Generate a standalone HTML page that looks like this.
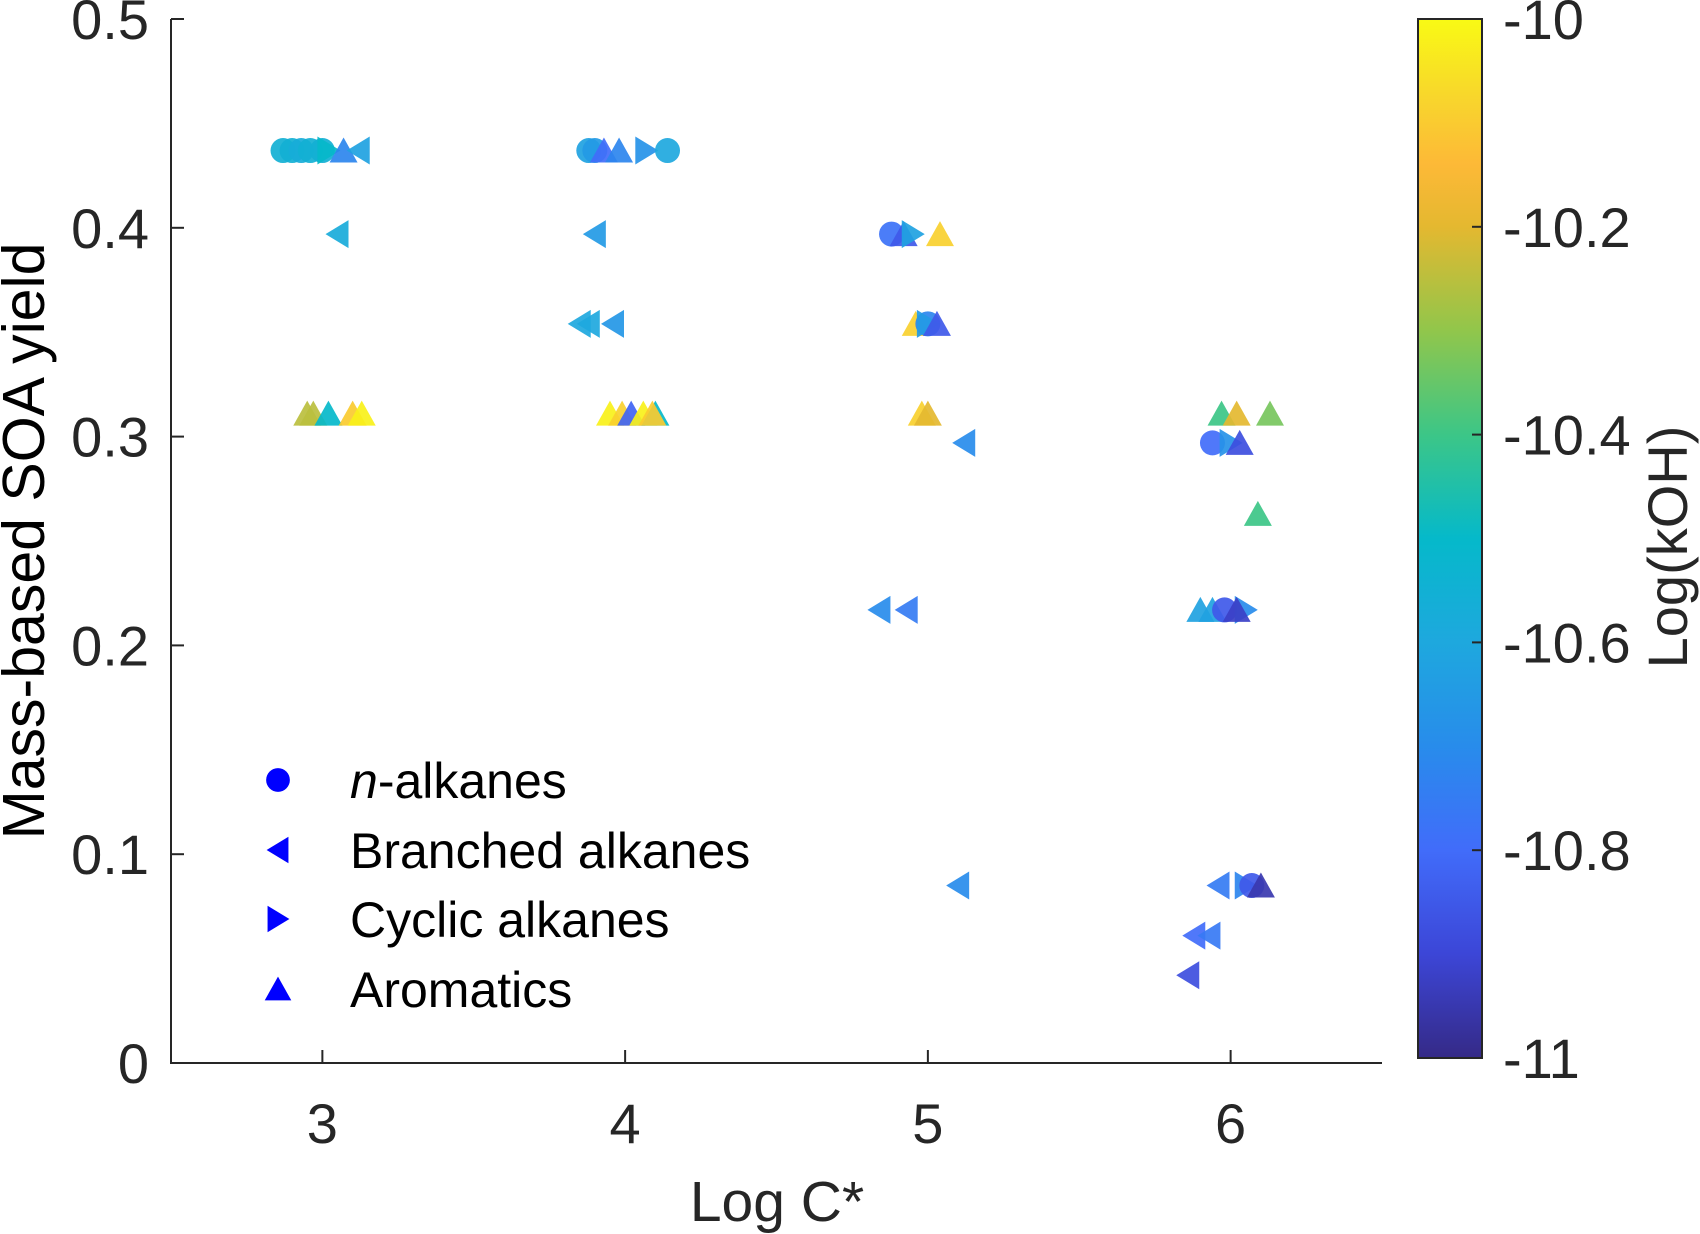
<!DOCTYPE html>
<html><head><meta charset="utf-8"><style>
html,body{margin:0;padding:0;background:#fff;}
svg{display:block;font-family:"Liberation Sans",Arial,sans-serif;}
</style></head><body>
<svg id="chart" width="1700" height="1234" viewBox="0 0 1700 1234" xmlns="http://www.w3.org/2000/svg">
<defs>
<linearGradient id="parula" x1="0" y1="1" x2="0" y2="0">
<stop offset="0" stop-color="rgb(53,42,135)"/>
<stop offset="0.1" stop-color="rgb(60,70,215)"/>
<stop offset="0.2" stop-color="rgb(65,108,250)"/>
<stop offset="0.3" stop-color="rgb(40,140,235)"/>
<stop offset="0.4" stop-color="rgb(30,168,222)"/>
<stop offset="0.5" stop-color="rgb(5,185,202)"/>
<stop offset="0.6" stop-color="rgb(60,198,135)"/>
<stop offset="0.7" stop-color="rgb(145,198,75)"/>
<stop offset="0.8" stop-color="rgb(228,184,48)"/>
<stop offset="0.86" stop-color="rgb(253,185,55)"/>
<stop offset="0.92" stop-color="rgb(248,212,45)"/>
<stop offset="1" stop-color="rgb(249,250,20)"/>
</linearGradient>
</defs>
<g id="marks"></g>
<g id="axes"></g>
</svg>
<script>
// ---- data ----
const xLogC = [2.87,2.90,2.93,2.96,3.00,3.02,3.07,3.12, 3.88,3.90,3.93,3.98,4.07,4.14,
  3.05,3.90,4.88,4.92,4.95,5.04,
  3.85,3.88,3.96,4.96,5.00,5.00,5.03,
  2.95,2.97,3.02,3.10,3.13,3.95,3.99,4.02,4.06,4.10,4.09,4.98,5.00,5.97,6.02,6.13,
  5.12,5.94,6.00,6.03,6.09,
  4.84,4.93,5.90,5.94,5.98,6.05,6.02,
  5.10,5.96,6.05,6.07,6.10,5.88,5.93,5.86];
const yYield = [0.437,0.437,0.437,0.437,0.437,0.437,0.437,0.437, 0.437,0.437,0.437,0.437,0.437,0.437,
  0.397,0.397,0.397,0.397,0.397,0.397,
  0.354,0.354,0.354,0.354,0.354,0.354,0.354,
  0.311,0.311,0.311,0.311,0.311,0.311,0.311,0.311,0.311,0.311,0.311,0.311,0.311,0.311,0.311,0.311,
  0.297,0.297,0.297,0.297,0.263,
  0.217,0.217,0.217,0.217,0.217,0.217,0.217,
  0.085,0.085,0.085,0.085,0.085,0.061,0.061,0.042];
const kOH = [-10.55,-10.55,-10.57,-10.55,-10.55,-10.5,-10.72,-10.62, -10.62,-10.65,-10.8,-10.72,-10.68,-10.6,
  -10.58,-10.65,-10.78,-10.85,-10.62,-10.09,
  -10.6,-10.6,-10.66,-10.09,-10.72,-10.65,-10.85,
  -10.25,-10.25,-10.5,-10.1,-10.02,-10.02,-10.09,-10.82,-10.02,-10.5,-10.1,-10.09,-10.2,-10.4,-10.2,-10.33,
  -10.7,-10.8,-10.68,-10.88,-10.4,
  -10.7,-10.75,-10.62,-10.62,-10.85,-10.7,-10.92,
  -10.7,-10.75,-10.72,-10.85,-10.95,-10.8,-10.76,-10.88];
const kind = ['n','n','n','n','n','c','a','b', 'n','n','a','a','c','n',
  'b','b','n','a','c','a',
  'b','b','b','a','n','c','a',
  'a','a','a','a','a','a','a','a','a','a','a','a','a','a','a','a',
  'b','n','c','a','a',
  'b','b','a','a','n','c','a',
  'b','b','c','n','a','b','b','b'];
const xTicks = [3,4,5,6];
const yTicks = [0,0.1,0.2,0.3,0.4,0.5];
const yTickLabels = ['0','0.1','0.2','0.3','0.4','0.5'];
const cTicks = [-10,-10.2,-10.4,-10.6,-10.8,-11];
const legendLabels = ['n-alkanes','Branched alkanes','Cyclic alkanes','Aromatics'];

// ---- scales ----
const X0=171, X1=1382, Y0=1063, Y1=19;
const xs = v => X0 + (v-2.5)/(6.5-2.5)*(X1-X0);
const ys = v => Y0 - v/0.5*(Y0-Y1);
const CB_T=19, CB_B=1058, CB_L=1418, CB_R=1482;
const cbY = v => CB_B - (v+11)/1*(CB_B-CB_T);
const stopPos=[0,0.1,0.2,0.3,0.4,0.5,0.6,0.7,0.8,0.86,0.92,1];
const stops=[[53,42,135],[60,70,215],[65,108,250],[40,140,235],[30,168,222],[5,185,202],[60,198,135],[145,198,75],[228,184,48],[253,185,55],[248,212,45],[249,250,20]];
function cmap(v){const t=Math.max(0,Math.min(1,v+11));let i=0;while(i<stopPos.length-2&&t>stopPos[i+1])i++;
 const f=(t-stopPos[i])/(stopPos[i+1]-stopPos[i]);const a=stops[i],b=stops[i+1];
 return 'rgb('+a.map((c,k)=>Math.round(c+(b[k]-c)*f)).join(',')+')';}
const NS='http://www.w3.org/2000/svg';
function mk(tag,attrs,parent){const e=document.createElementNS(NS,tag);for(const k in attrs)e.setAttribute(k,attrs[k]);parent.appendChild(e);return e;}
function shape(k,cx,cy,fill,parent,s){s=s||1;
 if(k==='n') return mk('ellipse',{cx:cx,cy:cy,rx:12.5*s,ry:12.5*s,fill:fill},parent);
 let p;
 if(k==='a') p=[[cx-14*s,cy+12*s],[cx+14*s,cy+12*s],[cx,cy-13*s]];
 else if(k==='b') p=[[cx+11*s,cy-14*s],[cx+11*s,cy+14*s],[cx-12*s,cy]];
 else p=[[cx-11*s,cy-14*s],[cx-11*s,cy+14*s],[cx+12*s,cy]];
 return mk('polygon',{points:p.map(q=>q.join(',')).join(' '),fill:fill},parent);}

const marks=document.getElementById('marks');
const names={n:'n-alkane-point',b:'branched-alkane-point',c:'cyclic-alkane-point',a:'aromatic-point'};
for(let i=0;i<xLogC.length;i++){
 const el=shape(kind[i],xs(xLogC[i]),ys(yYield[i]),cmap(kOH[i]),marks);
 el.setAttribute('fill-opacity','0.92');
 
 
}

const ax=document.getElementById('axes');
const T='#262626';
let l=mk('path',{d:`M${X0},${Y1} L${X0},${Y0} L${X1},${Y0}`,stroke:T,'stroke-width':2,fill:'none'},ax);


yTicks.forEach((v,i)=>{
 mk('line',{x1:X0,x2:X0+13,y1:ys(v),y2:ys(v),stroke:T,'stroke-width':2},ax);
 const t=mk('text',{x:X0-22,y:ys(v)+20,'text-anchor':'end','font-size':56,fill:T},ax);
 t.textContent=yTickLabels[i];
 
 
});
xTicks.forEach(v=>{
 mk('line',{x1:xs(v),x2:xs(v),y1:Y0,y2:Y0-13,stroke:T,'stroke-width':2},ax);
 const t=mk('text',{x:xs(v),y:Y0+80,'text-anchor':'middle','font-size':56,fill:T},ax);
 t.textContent=String(v);
 
 
});
let xt=mk('text',{x:777,y:1221,'text-anchor':'middle','font-size':57,fill:T},ax);
xt.textContent='Log C*';


let yt=mk('text',{x:0,y:0,'text-anchor':'middle','font-size':59,fill:'#000',transform:'translate(44,541) rotate(-90)'},ax);
yt.textContent='Mass-based SOA yield';



// legend
const lg=mk('g',{},ax);


const lk=['n','b','c','a'], ly=[780,850,919,989];
lk.forEach((k,i)=>{
 const s=shape(k,278,ly[i],'#0000ff',lg,0.95);
 
 
 const t=mk('text',{x:350,y:ly[i]+18,'font-size':50,fill:'#000'},lg);
 if(k==='n'){const a=mk('tspan',{'font-style':'italic'},t);a.textContent='n';const b=mk('tspan',{},t);b.textContent='-alkanes';}
 else t.textContent=legendLabels[i];
 
 
});

// colorbar
const cb=mk('rect',{x:CB_L,y:CB_T,width:CB_R-CB_L,height:CB_B-CB_T,fill:'url(#parula)',stroke:T,'stroke-width':2},ax);


cTicks.forEach(v=>{
 mk('line',{x1:CB_R-10,x2:CB_R,y1:cbY(v),y2:cbY(v),stroke:T,'stroke-width':2},ax);
 const t=mk('text',{x:1503,y:cbY(v)+20,'font-size':56,fill:T},ax);
 t.textContent=String(v);
 
 
});
let ct=mk('text',{x:0,y:0,'text-anchor':'middle','font-size':56,fill:T,transform:'translate(1687,547) rotate(-90)'},ax);
ct.textContent='Log(kOH)';


</script>
</body></html>
